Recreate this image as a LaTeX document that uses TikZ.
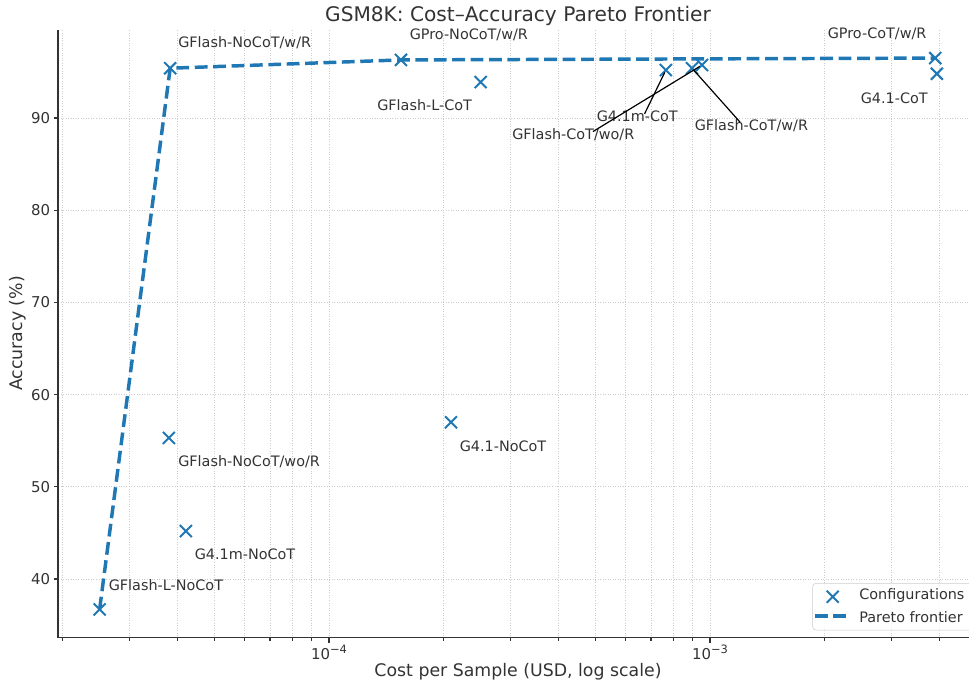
\documentclass[tikz,border=0pt]{standalone}
\usepackage{fontspec}
\setmainfont{DejaVu Sans}
\usepackage{xcolor}
\usepackage{tikz}
\usetikzlibrary{calc, shapes.misc}

\definecolor{mplblue}{HTML}{1F77B4}
\definecolor{txtgray}{HTML}{333333}

% pixel position of a cost (in 1e-5 USD) and of an accuracy (in %)
\newcommand{\cx}[1]{\xdec+\decw*(log10(#1)-1)}
\newcommand{\ay}[1]{\yref+(90-#1)*\yunit}
% tick label 10^e
\newcommand{\tenpow}[1]{10\raisebox{0.42em}{\fontsize{8.6}{9}\selectfont −#1}}

\begin{document}
\begin{tikzpicture}[
            x=0.75pt, y=-0.75pt,
            font=\fontsize{10.8}{13}\selectfont,
            every node/.style={text=txtgray, inner sep=0pt},
            cfg/.style={cross out, draw=mplblue, line width=1.5pt, minimum size=7.5pt},
            pareto/.style={draw=mplblue, line width=2.6pt, dash pattern=on 9.6pt off 4.2pt},
            gridln/.style={black!20, line width=0.6pt, dash pattern=on 0.7pt off 1.2pt},
            spine/.style={txtgray, line width=1.3pt},
            tickln/.style={txtgray, line width=0.8pt},
            ticklbl/.style={font=\fontsize{11.2}{13}\selectfont},
            axlbl/.style={font=\fontsize{13}{15}\selectfont},
            lbl/.style={anchor=west},
            callout/.style={black, line width=0.9pt, shorten >=2pt}
        ]

        % Constants, in pixels of the figure
        \def\xl{58}        % left spine
        \def\xr{969}       % right edge
        \def\yt{30}        % top of axes
        \def\yb{637.5}     % bottom spine
        \def\xdec{329}     % x of 10^-4
        \def\decw{381}     % width of one decade
        \def\yref{118}     % y of 90 %
        \def\yunit{9.22}   % pixels per percent

        \useasboundingbox (0,0) rectangle (969,683);

        % --- Grid ---
        \foreach \c in {2,3,4,5,6,7,8,9,10,20,30,40,50,60,70,80,90,100,200,300,400}
            \draw[gridln] ({\cx{\c}},\yt) -- ({\cx{\c}},\yb);
        \foreach \a in {40,50,...,90}
            \draw[gridln] (\xl,{\ay{\a}}) -- (\xr,{\ay{\a}});

        % --- Axes and ticks ---
        \draw[spine] (\xl,\yt) -- (\xl,\yb) -- (\xr,\yb);
        \foreach \c in {2,3,4,5,6,7,8,9,20,30,40,50,60,70,80,90,200,300,400}
            \draw[tickln] ({\cx{\c}},\yb) -- ++(0,3);
        \foreach \a in {40,50,...,90}
            \draw[tickln] (\xl,{\ay{\a}}) -- ++(-4,0) node[ticklbl, anchor=east, xshift=-2.5pt] (yt\a) {\a};
        \draw[tickln] ({\cx{10}},\yb) -- ++(0,5) node[ticklbl, anchor=north, yshift=-1.5pt] (xt4) {\tenpow{4}};
        \draw[tickln] ({\cx{100}},\yb) -- ++(0,5) node[ticklbl, anchor=north, yshift=-1.5pt] (xt3) {\tenpow{3}};

        \node[axlbl] (xlab) at (518,672) {Cost per Sample (USD, log scale)};
        \node[axlbl, rotate=90] (ylab) at (18,333.5) {Accuracy (\%)};
        \node[font=\fontsize{15.1}{18}\selectfont] (title) at (518,16) {GSM8K: Cost–Accuracy Pareto Frontier};

        % --- Configurations ---
        \foreach \c/\a/\nm in {2.5/36.7/gfln, 3.83/95.4/gfnw, 3.8/55.3/gfnwo, 4.21/45.2/g41mn,
                15.45/96.3/gpnw, 25/93.9/gflc, 20.9/57.0/g41n, 76.6/95.2/g41mc,
                89.7/95.4/gfcw, 95.3/95.75/gfcwo, 390/96.5/gpcw, 394/94.8/g41c}
            \node[cfg] (\nm) at ({\cx{\c}},{\ay{\a}}) {};

        % --- Pareto frontier ---
        \draw[pareto] (gfln.center) -- (gfnw.center) -- (gpnw.center) -- (gpcw.center);

        % --- Point labels ---
        \node[lbl] (t-gfln) at (108.5,584.7) {GFlash-L-NoCoT};
        \node[lbl] (t-gfnw) at (178,42.7) {GFlash-NoCoT/w/R};
        \node[lbl] (t-gfnwo) at (178,462) {GFlash-NoCoT/wo/R};
        \node[lbl] (t-g41mn) at (194.5,554.7) {G4.1m-NoCoT};
        \node[lbl] (t-gpnw) at (409.5,35) {GPro-NoCoT/w/R};
        \node[lbl] (t-gflc) at (377,105.5) {GFlash-L-CoT};
        \node[lbl] (t-g41n) at (459.5,446) {G4.1-NoCoT};
        \node[lbl] (t-g41mc) at (596.5,116.5) {G4.1m-CoT};
        \node[lbl] (t-gfcwo) at (512,135) {GFlash-CoT/wo/R};
        \node[lbl] (t-gfcw) at (694.5,125.5) {GFlash-CoT/w/R};
        \node[lbl] (t-gpcw) at (827.5,33.5) {GPro-CoT/w/R};
        \node[lbl] (t-g41c) at (860.5,98.5) {G4.1-CoT};

        % Callouts for the crowded points
        \draw[callout] ($(t-g41mc.north west)!0.59!(t-g41mc.north east)+(0,3)$) -- (g41mc.center);
        \draw[callout] ($(t-gfcwo.north west)!0.66!(t-gfcwo.north east)+(0,3)$) -- (gfcwo.center);
        \draw[callout] ($(t-gfcw.north west)!0.40!(t-gfcw.north east)+(0,3)$) -- (gfcw.center);

        % --- Legend ---
        \begin{scope}
            \clip (0,0) rectangle (969,683);
            \draw[rounded corners=2.5pt, draw=black!20, fill=white, fill opacity=0.8] (812.7,583.3) rectangle (980,630);
        \end{scope}
        \node[cfg] (lg-cfg) at (832.7,596.7) {};
        \node[lbl] (lg-t1) at (859,595.5) {Configurations};
        \coordinate (lg-a) at (815,616);
        \coordinate (lg-b) at (847,616);
        \draw[pareto] (lg-a) -- (lg-b);
        \node[lbl] (lg-t2) at (859,617) {Pareto frontier};

        \end{tikzpicture}
\end{document}
